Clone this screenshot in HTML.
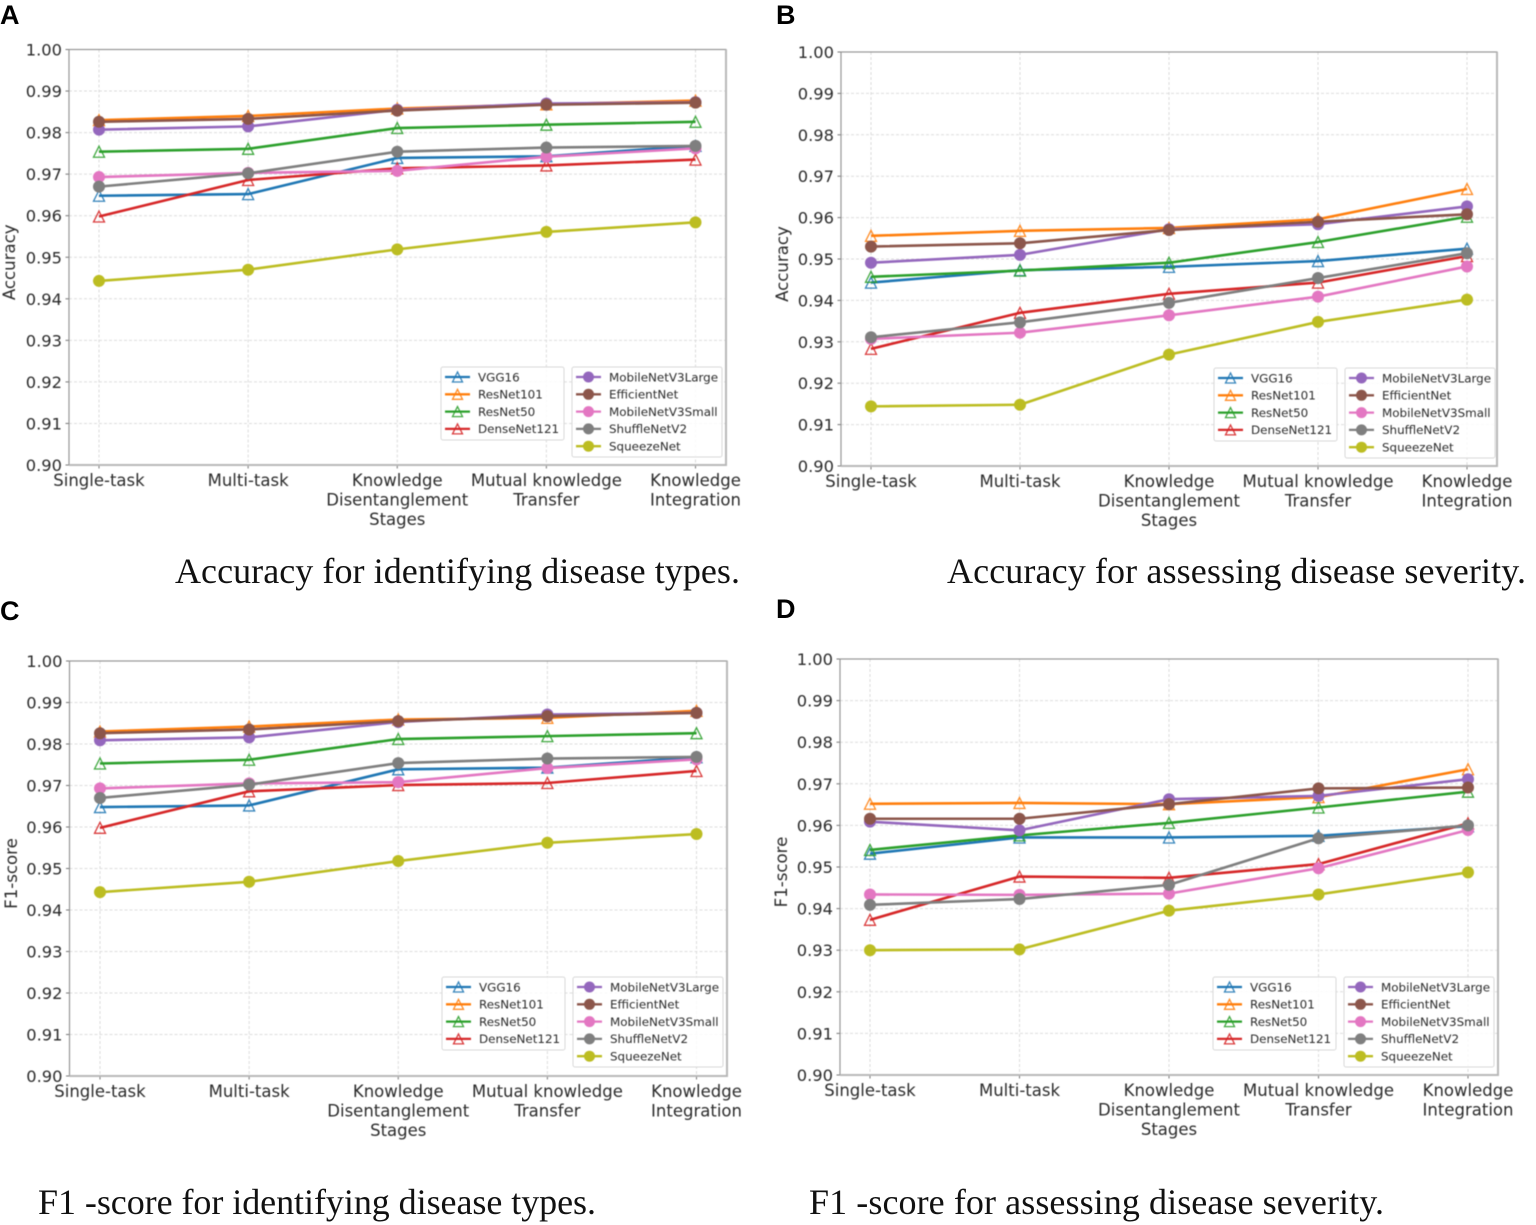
<!DOCTYPE html>
<html lang="en">
<head>
<meta charset="utf-8">
<title>Model metrics across knowledge disentanglement stages</title>
<style>
html,body{margin:0;padding:0;background:#fff;}
svg{display:block;}
text{font-family:"DejaVu Sans","Liberation Sans",sans-serif;fill:#2b2b2b;}
.caption{font-family:"Liberation Serif",serif;font-size:36px;fill:#111;}
.letter{font-family:"Liberation Sans",sans-serif;font-weight:bold;font-size:27px;fill:#000;}
#charts{filter:blur(0.5px);}
</style>
</head>
<body>
<svg id="figure" width="1536" height="1225" viewBox="0 0 1536 1225" xmlns="http://www.w3.org/2000/svg">
  <g id="charts"></g>
  <text class="letter" x="0" y="24">A</text>
  <text class="letter" x="776" y="24">B</text>
  <text class="letter" x="0" y="620">C</text>
  <text class="letter" x="776" y="618">D</text>
  <text class="caption" x="175" y="583" textLength="565" lengthAdjust="spacing">Accuracy for identifying disease types.</text>
  <text class="caption" x="947" y="583" textLength="579" lengthAdjust="spacing">Accuracy for assessing disease severity.</text>
  <text class="caption" x="38" y="1214" textLength="558" lengthAdjust="spacing">F1 -score for identifying disease types.</text>
  <text class="caption" x="809" y="1214" textLength="575" lengthAdjust="spacing">F1 -score for assessing disease severity.</text>
</svg>
<script>
const categories = [["Single-task"], ["Multi-task"], ["Knowledge", "Disentanglement", "Stages"], ["Mutual knowledge", "Transfer"], ["Knowledge", "Integration"]];
const yTickLabels = ["1.00", "0.99", "0.98", "0.97", "0.96", "0.95", "0.94", "0.93", "0.92", "0.91", "0.90"];
const seriesNames = ["VGG16", "ResNet101", "ResNet50", "DenseNet121", "MobileNetV3Large", "EfficientNet", "MobileNetV3Small", "ShuffleNetV2", "SqueezeNet"];

const aVgg16 = [0.9648, 0.9652, 0.9739, 0.9743, 0.9768];
const aResNet101 = [0.9830, 0.9840, 0.9858, 0.9868, 0.9877];
const aResNet50 = [0.9754, 0.9761, 0.9811, 0.9819, 0.9826];
const aDenseNet121 = [0.9598, 0.9686, 0.9714, 0.9721, 0.9735];
const aMobileLarge = [0.9807, 0.9815, 0.9855, 0.9870, 0.9873];
const aEfficientNet = [0.9826, 0.9833, 0.9853, 0.9867, 0.9872];
const aMobileSmall = [0.9693, 0.9703, 0.9708, 0.9742, 0.9762];
const aShuffleNet = [0.9670, 0.9702, 0.9754, 0.9764, 0.9768];
const aSqueezeNet = [0.9443, 0.9470, 0.9519, 0.9561, 0.9584];

const bVgg16 = [0.9443, 0.9473, 0.9481, 0.9495, 0.9525];
const bResNet101 = [0.9556, 0.9568, 0.9575, 0.9596, 0.9669];
const bResNet50 = [0.9457, 0.9472, 0.9491, 0.9541, 0.9602];
const bDenseNet121 = [0.9283, 0.9370, 0.9416, 0.9443, 0.9507];
const bMobileLarge = [0.9491, 0.9510, 0.9572, 0.9584, 0.9627];
const bEfficientNet = [0.9530, 0.9538, 0.9570, 0.9590, 0.9608];
const bMobileSmall = [0.9307, 0.9322, 0.9364, 0.9409, 0.9482];
const bShuffleNet = [0.9311, 0.9347, 0.9394, 0.9454, 0.9514];
const bSqueezeNet = [0.9144, 0.9148, 0.9269, 0.9348, 0.9402];

const cVgg16 = [0.9648, 0.9652, 0.9739, 0.9743, 0.9768];
const cResNet101 = [0.9830, 0.9842, 0.9859, 0.9863, 0.9880];
const cResNet50 = [0.9753, 0.9762, 0.9812, 0.9819, 0.9826];
const cDenseNet121 = [0.9598, 0.9686, 0.9701, 0.9706, 0.9735];
const cMobileLarge = [0.9809, 0.9816, 0.9853, 0.9871, 0.9875];
const cEfficientNet = [0.9826, 0.9835, 0.9855, 0.9867, 0.9875];
const cMobileSmall = [0.9693, 0.9705, 0.9708, 0.9742, 0.9763];
const cShuffleNet = [0.9670, 0.9702, 0.9754, 0.9765, 0.9769];
const cSqueezeNet = [0.9443, 0.9468, 0.9518, 0.9562, 0.9583];

const dVgg16 = [0.9532, 0.9571, 0.9571, 0.9575, 0.9598];
const dResNet101 = [0.9652, 0.9654, 0.9651, 0.9668, 0.9735];
const dResNet50 = [0.9541, 0.9576, 0.9606, 0.9643, 0.9681];
const dDenseNet121 = [0.9373, 0.9477, 0.9474, 0.9507, 0.9605];
const dMobileLarge = [0.9609, 0.9588, 0.9663, 0.9671, 0.9711];
const dEfficientNet = [0.9616, 0.9616, 0.9651, 0.9689, 0.9691];
const dMobileSmall = [0.9434, 0.9433, 0.9436, 0.9497, 0.9589];
const dShuffleNet = [0.9409, 0.9423, 0.9457, 0.9569, 0.9600];
const dSqueezeNet = [0.9300, 0.9302, 0.9395, 0.9434, 0.9487];

const seriesColors = ["#1f77b4", "#ff7f0e", "#2ca02c", "#d62728", "#9467bd", "#8c564b", "#e377c2", "#7f7f7f", "#bcbd22"];
const seriesMarkers = ["triangle", "triangle", "triangle", "triangle", "circle", "circle", "circle", "circle", "circle"];

const panels = [
  { id: "a", yLabel: "Accuracy", left: 69, right: 726, top: 49.5, bottom: 465, firstX: 99, lastX: 695.5, yLabelX: 15, legendX: 441, legendY: 367,
    values: [aVgg16, aResNet101, aResNet50, aDenseNet121, aMobileLarge, aEfficientNet, aMobileSmall, aShuffleNet, aSqueezeNet] },
  { id: "b", yLabel: "Accuracy", left: 841, right: 1497, top: 52, bottom: 466, firstX: 871, lastX: 1467, yLabelX: 788, legendX: 1214, legendY: 368,
    values: [bVgg16, bResNet101, bResNet50, bDenseNet121, bMobileLarge, bEfficientNet, bMobileSmall, bShuffleNet, bSqueezeNet] },
  { id: "c", yLabel: "F1-score", left: 69.5, right: 727, top: 661, bottom: 1076, firstX: 100, lastX: 696.5, yLabelX: 17, legendX: 442, legendY: 977,
    values: [cVgg16, cResNet101, cResNet50, cDenseNet121, cMobileLarge, cEfficientNet, cMobileSmall, cShuffleNet, cSqueezeNet] },
  { id: "d", yLabel: "F1-score", left: 840, right: 1498, top: 659, bottom: 1075, firstX: 870, lastX: 1468, yLabelX: 787, legendX: 1213, legendY: 977,
    values: [dVgg16, dResNet101, dResNet50, dDenseNet121, dMobileLarge, dEfficientNet, dMobileSmall, dShuffleNet, dSqueezeNet] }
];

const NS = "http://www.w3.org/2000/svg";
const chartsRoot = document.getElementById("charts");

function make(tag, attrs, parent) {
  const node = document.createElementNS(NS, tag);
  for (const key in attrs) node.setAttribute(key, attrs[key]);
  parent.appendChild(node);
  return node;
}

function drawMarker(kind, cx, cy, color, size, parent) {
  if (kind === "triangle") {
    const pts = [[cx, cy - size], [cx - size, cy + size], [cx + size, cy + size]];
    return make("polygon", { points: pts.map(p => p.join(",")).join(" "), fill: "none", stroke: color, "stroke-width": 1.3, "stroke-opacity": 0.9 }, parent);
  }
  return make("circle", { cx: cx, cy: cy, r: size + 0.5, fill: color, stroke: "none" }, parent);
}

function drawLegendBox(p, names, indexes, boxX, boxY, boxW, boxH, handleX, textX, parent, side) {
  const box = make("rect", { x: boxX, y: boxY, width: boxW, height: boxH, fill: "#fff", "fill-opacity": 0.85, stroke: "#d8d8d8", "stroke-width": 1, rx: 2 }, parent);
  
  
  indexes.forEach((si, row) => {
    const y = boxY + 10 + row * 17.3;
    const entry = make("g", {}, parent);
    
    
    make("line", { x1: handleX, x2: handleX + 25, y1: y, y2: y, stroke: seriesColors[si], "stroke-width": 2.3 }, entry);
    drawMarker(seriesMarkers[si], handleX + 12.5, y, seriesColors[si], 5, entry);
    const label = make("text", { x: textX, y: y + 4.3, "font-size": 11.9 }, entry);
    label.textContent = names[si];
  });
}

function drawPanel(p) {
  const group = make("g", {}, chartsRoot);
  
  

  const yMax = parseFloat(yTickLabels[0]);
  const yMin = parseFloat(yTickLabels[yTickLabels.length - 1]);
  const xScale = i => p.firstX + (p.lastX - p.firstX) * i / (categories.length - 1);
  const yScale = v => p.bottom - (v - yMin) / (yMax - yMin) * (p.bottom - p.top);

  yTickLabels.forEach(lbl => {
    const y = yScale(parseFloat(lbl));
    const grid = make("line", { x1: p.left, x2: p.right, y1: y, y2: y, stroke: "#dcdcdc", "stroke-width": 1, "stroke-dasharray": "3 2" }, group);
    
    
    const mark = make("line", { x1: p.left - 3.5, x2: p.left, y1: y, y2: y, stroke: "#777", "stroke-width": 1 }, group);
    
    
    const tick = make("text", { x: p.left - 7, y: y + 6, "font-size": 16.3, "text-anchor": "end" }, group);
    
    
    tick.textContent = lbl;
  });

  categories.forEach((lines, i) => {
    const x = xScale(i);
    const grid = make("line", { x1: x, x2: x, y1: p.top, y2: p.bottom, stroke: "#dcdcdc", "stroke-width": 1, "stroke-dasharray": "3 2" }, group);
    
    
    const tick = make("line", { x1: x, x2: x, y1: p.bottom, y2: p.bottom + 3.5, stroke: "#777", "stroke-width": 1 }, group);
    
    
    lines.forEach((line, row) => {
      const label = make("text", { x: x, y: p.bottom + 21 + row * 19.5, "font-size": 16.5, "text-anchor": "middle" }, group);
      
      
      label.textContent = line;
    });
  });

  const frame = make("rect", { x: p.left, y: p.top, width: p.right - p.left, height: p.bottom - p.top, fill: "none", stroke: "#8e8e8e", "stroke-width": 1.1 }, group);
  
  
  const rightBottom = make("polyline", { points: p.right + "," + p.top + " " + p.right + "," + p.bottom + " " + p.left + "," + p.bottom, fill: "none", stroke: "#b8b8b8", "stroke-width": 2 }, group);
  
  

  const yMid = (p.top + p.bottom) / 2 + 5;
  const yTitle = make("text", { x: p.yLabelX, y: yMid, "font-size": 16.6, "text-anchor": "middle", transform: "rotate(-90 " + p.yLabelX + " " + yMid + ")" }, group);
  
  
  yTitle.textContent = p.yLabel;

  p.values.forEach((vals, si) => {
    const seriesGroup = make("g", {}, group);
    
    
    const linePts = vals.map((v, i) => xScale(i) + "," + yScale(v)).join(" ");
    const polyline = make("polyline", { points: linePts, fill: "none", stroke: seriesColors[si], "stroke-width": 2.6, "stroke-linejoin": "round" }, seriesGroup);
    
    
    vals.forEach((v, i) => {
      const mark = drawMarker(seriesMarkers[si], xScale(i), yScale(v), seriesColors[si], 5.5, seriesGroup);
      
      
    });
  });

  const legend = make("g", {}, group);
  
  
  const triangles = [];
  const circles = [];
  seriesNames.forEach((n, i) => (seriesMarkers[i] === "triangle" ? triangles : circles).push(i));
  drawLegendBox(p, seriesNames, triangles, p.legendX, p.legendY, 123, 73, p.legendX + 4, p.legendX + 37, legend, 'left');
  drawLegendBox(p, seriesNames, circles, p.legendX + 131, p.legendY, 150, 90, p.legendX + 135, p.legendX + 168, legend, 'right');
}

panels.forEach(drawPanel);
</script>
</body>
</html>
